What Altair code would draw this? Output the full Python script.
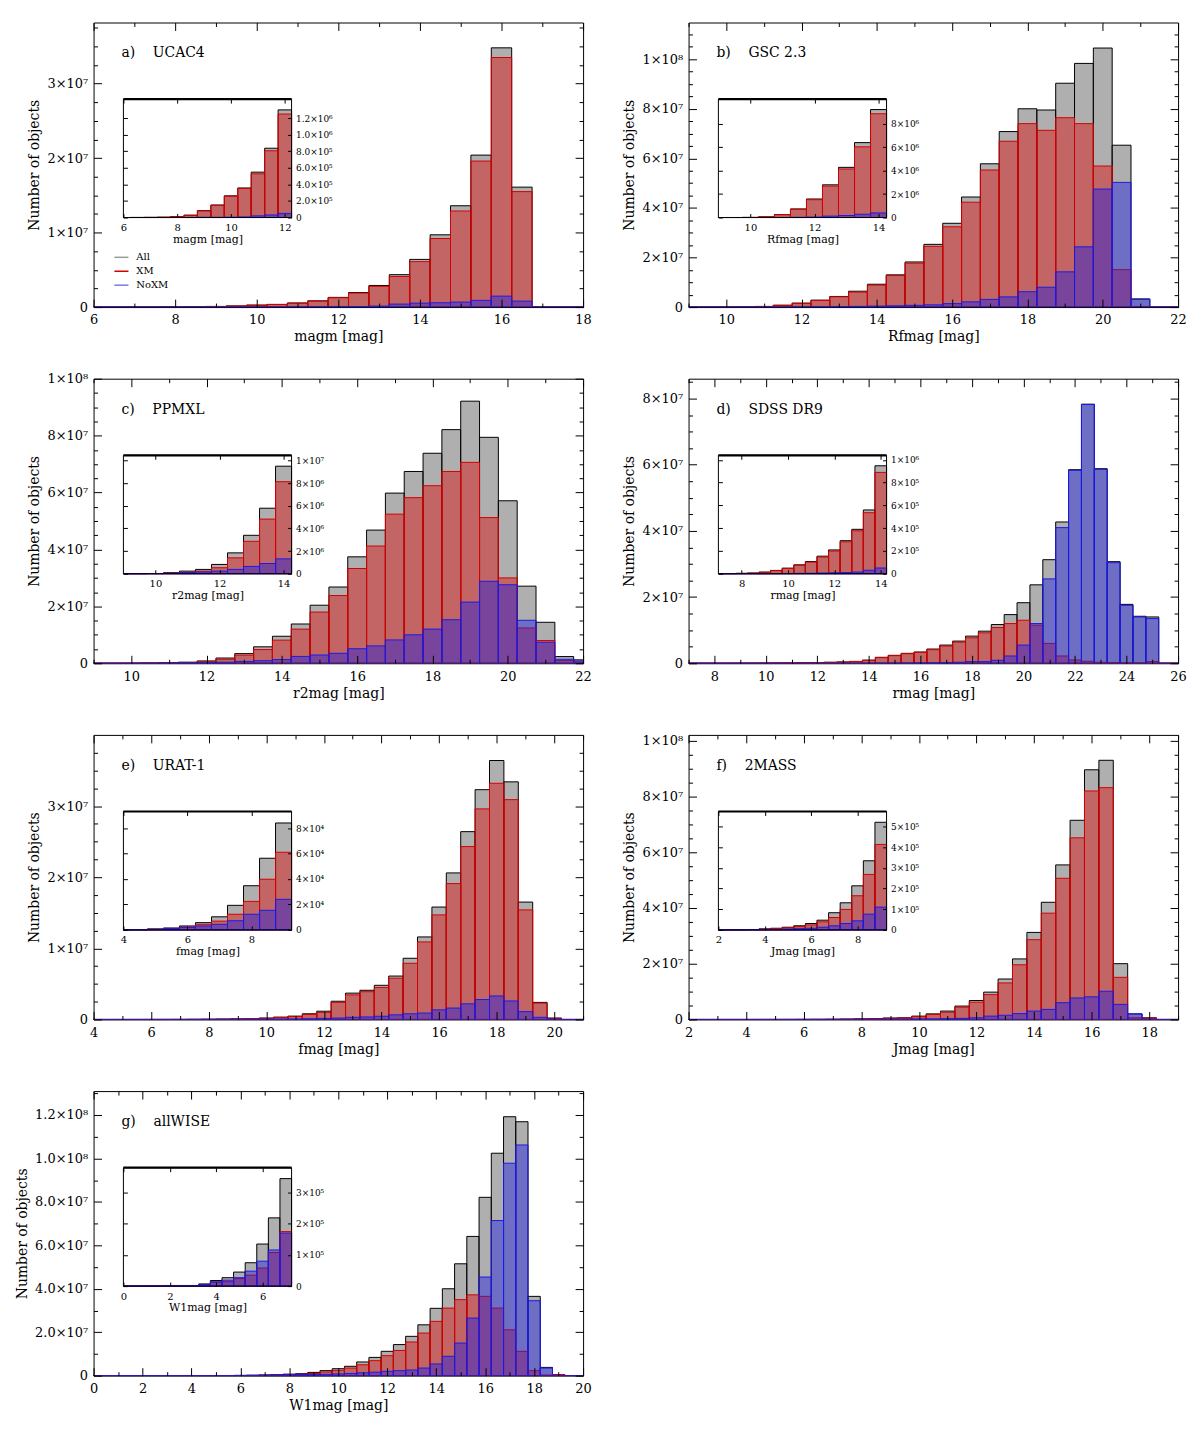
import altair as alt
import pandas as pd

FONT = "DejaVu Serif"
W, H = 492, 286                      # plot area of every panel
IX0, IX1, IY0, IY1 = 30.0, 199.0, 77.0, 196.0   # inset box inside the plot area
BIN_W = 0.5

SERIES = ["All", "XM", "NoXM"]
FILL = ["#7a7a7a", "#e00000", "#2020e0"]
FILL_OPACITY = [0.6, 0.42, 0.45]
STROKE = ["#000000", "#d40000", "#1a1ae6"]
LEGEND_COLORS = ["#9a9a9a", "#d40000", "#7878e6"]

# ---------------- a) UCAC4 ----------------
A_FIRST = 6.0
A_ALL = [0, 1e3, 2e3, 4e3, 1.2e4, 2.8e4, 8.3e4, 1.51e5, 2.62e5, 3.57e5, 5.48e5, 8.37e5, 1.30e6,
         1.95e6, 2.90e6, 4.35e6, 6.40e6, 9.70e6, 1.36e7, 2.04e7, 3.48e7, 1.61e7, 0, 0, 0]
A_XM = [0, 1e3, 2e3, 4e3, 1.1e4, 2.7e4, 8.0e4, 1.48e5, 2.58e5, 3.50e5, 5.28e5, 8.06e5, 1.25e6,
        1.88e6, 2.78e6, 4.10e6, 6.10e6, 9.20e6, 1.29e7, 1.96e7, 3.35e7, 1.55e7, 0, 0, 0]
A_NOXM = [0, 0, 0, 0, 1e3, 1e3, 3e3, 3e3, 4e3, 7e3, 2.0e4, 3.1e4, 5.0e4,
          6.0e4, 1.3e5, 4.0e5, 5.3e5, 5.8e5, 6.7e5, 9.0e5, 1.47e6, 8.0e5, 0, 0, 0]

# ---------------- b) GSC 2.3 ----------------
B_FIRST = 9.0
B_ALL = [1e3, 3e3, 1e4, 6e4, 2.5e5, 7.3e5, 1.58e6, 2.79e6, 4.28e6, 6.39e6, 9.21e6, 1.30e7, 1.82e7,
         2.53e7, 3.38e7, 4.44e7, 5.78e7, 7.08e7, 8.00e7, 7.95e7, 9.03e7, 9.83e7, 1.045e8, 6.53e7,
         3.3e6, 0, 0]
B_XM = [1e3, 3e3, 1e4, 5.8e4, 2.45e5, 7.1e5, 1.52e6, 2.68e6, 4.14e6, 6.03e6, 8.85e6, 1.27e7, 1.77e7,
        2.45e7, 3.24e7, 4.23e7, 5.53e7, 6.69e7, 7.40e7, 7.13e7, 7.64e7, 7.40e7, 5.69e7, 1.51e7,
        2e5, 0, 0]
B_NOXM = [0, 0, 0, 2e3, 5e3, 2e4, 4e4, 1.2e5, 1.7e5, 2.8e5, 3.9e5, 5e5, 7e5,
          9e5, 1.4e6, 2.1e6, 3.1e6, 4.1e6, 6.2e6, 8.0e6, 1.42e7, 2.43e7, 4.76e7, 5.03e7,
          3.1e6, 0, 0]

# ---------------- c) PPMXL ----------------
C_FIRST = 9.0
C_ALL = [2e3, 5e3, 2e4, 9e4, 2.3e5, 3.8e5, 8.2e5, 1.84e6, 3.39e6, 5.78e6, 9.49e6, 1.38e7, 2.04e7,
         2.68e7, 3.74e7, 4.68e7, 5.98e7, 6.74e7, 7.38e7, 8.21e7, 9.21e7, 7.94e7, 5.71e7, 2.71e7,
         1.44e7, 2.35e6, 1.2e6]
C_XM = [1e3, 3e3, 1e4, 5e4, 1.3e5, 2.3e5, 5.3e5, 1.40e6, 2.86e6, 4.82e6, 8.12e6, 1.20e7, 1.80e7,
        2.38e7, 3.33e7, 4.12e7, 5.24e7, 5.82e7, 6.24e7, 6.74e7, 7.06e7, 5.12e7, 3.00e7, 1.24e7,
        8.0e6, 1.0e6, 4e5]
C_NOXM = [1e3, 2e3, 1e4, 4e4, 1.0e5, 1.5e5, 2.3e5, 3.8e5, 6.4e5, 9.0e5, 1.31e6, 2.4e6, 2.9e6,
          3.5e6, 5.1e6, 6.1e6, 8.2e6, 1.00e7, 1.20e7, 1.53e7, 2.15e7, 2.88e7, 2.76e7, 1.51e7,
          7.4e6, 1.4e6, 8e5]

# ---------------- d) SDSS DR9 ----------------
D_FIRST = 7.0
D_ALL = [0, 1e3, 3e3, 6e3, 1.4e4, 2.9e4, 4.9e4, 7.8e4, 1.07e5, 1.54e5, 2.09e5, 2.9e5, 3.9e5,
         5.6e5, 9.48e5, 1.8e6, 2.4e6, 3.0e6, 3.4e6, 4.3e6, 5.5e6, 6.7e6, 8.2e6, 9.7e6, 1.17e7,
         1.47e7, 1.83e7, 2.37e7, 3.13e7, 4.27e7, 5.85e7, 7.83e7, 5.88e7, 3.07e7, 1.78e7, 1.42e7,
         1.40e7, 0, 0]
D_XM = [0, 1e3, 3e3, 6e3, 1.3e4, 2.7e4, 4.6e4, 7.4e4, 1.02e5, 1.47e5, 1.99e5, 2.8e5, 3.77e5,
        5.36e5, 8.9e5, 1.7e6, 2.3e6, 2.9e6, 3.3e6, 4.1e6, 5.2e6, 6.4e6, 7.7e6, 9.2e6, 1.08e7,
        1.20e7, 1.30e7, 1.15e7, 6.0e6, 2.2e6, 1.0e6, 6e5, 3e5, 2e5, 1e5, 1e5,
        5e5, 0, 0]
D_NOXM = [0, 0, 0, 0, 0, 1e3, 2e3, 3e3, 4e3, 6e3, 8e3, 1e4, 1.5e4,
          3e4, 5e4, 8e4, 1e5, 1e5, 1.2e5, 1.5e5, 2e5, 3e5, 5e5, 5e5, 9e5,
          2.2e6, 5.5e6, 1.20e7, 2.55e7, 4.10e7, 5.83e7, 7.82e7, 5.86e7, 3.04e7, 1.75e7, 1.40e7,
          1.35e7, 0, 0]

# ---------------- e) URAT-1 ----------------
E_FIRST = 4.0
E_ALL = [0, 3e2, 8e2, 1.5e3, 3.1e3, 5.7e3, 1.03e4, 1.93e4, 3.47e4, 5.63e4, 8.4e4, 1.0e5, 2.0e5,
         3.3e5, 4.7e5, 8.0e5, 1.16e6, 2.56e6, 3.70e6, 4.10e6, 4.80e6, 6.10e6, 8.60e6, 1.16e7,
         1.58e7, 2.06e7, 2.64e7, 3.23e7, 3.64e7, 3.34e7, 1.65e7, 2.4e6, 2e5, 0, 0]
E_XM = [0, 2e2, 5e2, 1.0e3, 2.3e3, 4.4e3, 6.9e3, 1.23e4, 2.24e4, 3.98e4, 6.1e4, 7.5e4, 1.6e5,
        2.8e5, 4.1e5, 7.1e5, 1.0e6, 2.40e6, 3.45e6, 3.90e6, 4.50e6, 5.80e6, 7.90e6, 1.09e7,
        1.47e7, 1.91e7, 2.43e7, 2.96e7, 3.32e7, 3.09e7, 1.54e7, 2.3e6, 1.5e5, 0, 0]
E_NOXM = [0, 1e2, 4e2, 1.2e3, 2.0e3, 3.1e3, 4.4e3, 7.2e3, 1.23e4, 1.54e4, 2.4e4, 3.0e4, 5e4,
          6e4, 7e4, 1e5, 1.5e5, 2e5, 3e5, 3.5e5, 4.5e5, 6.5e5, 8e5, 9e5,
          1.35e6, 1.6e6, 2.2e6, 2.8e6, 3.3e6, 2.6e6, 1.1e6, 3e5, 5e4, 0, 0]

# ---------------- f) 2MASS ----------------
F_FIRST = 2.0
F_ALL = [0, 0, 5e2, 2e3, 5e3, 8e3, 1.3e4, 2.0e4, 3.1e4, 4.7e4, 8.3e4, 1.31e5, 2.13e5, 3.34e5,
         5.2e5, 6.0e5, 1.2e6, 2.0e6, 3.0e6, 4.8e6, 6.8e6, 9.8e6, 1.45e7, 2.17e7, 3.12e7, 4.20e7,
         5.54e7, 7.14e7, 8.95e7, 9.29e7, 2.00e7, 2.0e6, 6e5, 0, 0]
F_XM = [0, 0, 4e2, 1.5e3, 4e3, 6e3, 1.0e4, 1.6e4, 2.4e4, 3.9e4, 6.0e4, 9.9e4, 1.65e5, 2.68e5,
        4.13e5, 5.0e5, 1.0e6, 1.8e6, 2.6e6, 4.4e6, 6.2e6, 8.9e6, 1.31e7, 1.96e7, 2.86e7, 3.81e7,
        5.06e7, 6.51e7, 8.19e7, 8.31e7, 1.51e7, 6e5, 5e5, 0, 0]
F_NOXM = [0, 0, 1e2, 5e2, 1e3, 2e3, 4e3, 6e3, 8e3, 1.3e4, 2.0e4, 3.1e4, 4.4e4, 7.6e4,
          1.1e5, 1.0e5, 2e5, 2e5, 3e5, 4e5, 6e5, 1.2e6, 1.5e6, 2.1e6, 3.0e6, 3.6e6,
          6.0e6, 7.7e6, 8.1e6, 1.01e7, 5.4e6, 2.0e6, 1e5, 0, 0]

# ---------------- g) allWISE ----------------
G_FIRST = 0.0
G_ALL = [0, 0, 1e3, 1.5e3, 2e3, 2e3, 2e3, 7e3, 1.8e4, 2.7e4, 4.5e4, 7.5e4, 1.35e5, 2.19e5,
         3.45e5, 4.5e5, 7.0e5, 9.0e5, 1.5e6, 2.3e6, 3.2e6, 4.3e6, 6.3e6, 8.4e6, 1.12e7, 1.43e7,
         1.81e7, 2.34e7, 3.10e7, 4.00e7, 5.15e7, 6.41e7, 8.21e7, 1.024e8, 1.192e8, 1.169e8,
         3.65e7, 3.8e6, 5e5, 0, 0]
G_XM = [0, 0, 1e3, 1.5e3, 1.5e3, 1.5e3, 1e3, 2e3, 1.2e4, 1.4e4, 2.4e4, 3.5e4, 5.8e4, 1.08e5,
        1.75e5, 2.0e5, 3.0e5, 5.0e5, 1.0e6, 1.7e6, 2.45e6, 3.5e6, 5.0e6, 6.9e6, 9.2e6, 1.16e7,
        1.55e7, 1.96e7, 2.50e7, 3.11e7, 3.50e7, 3.72e7, 3.65e7, 3.11e7, 2.11e7, 1.12e7,
        2.3e6, 3e5, 5e5, 0, 0]
G_NOXM = [0, 0, 0, 0, 5e2, 5e2, 1e3, 5e3, 1.4e4, 1.9e4, 2.7e4, 4.8e4, 8.0e4, 1.16e5,
          1.70e5, 2.5e5, 4.0e5, 4.0e5, 5.0e5, 6.0e5, 8.0e5, 1.0e6, 1.3e6, 1.6e6, 2.0e6, 2.3e6,
          2.6e6, 3.5e6, 5.4e6, 8.9e6, 1.50e7, 2.65e7, 4.54e7, 7.14e7, 9.78e7, 1.062e8,
          3.45e7, 3.5e6, 0, 0, 0]

# ---------------- texts, axes and tick labels ----------------
LABELS = ["a)\u00a0\u00a0\u00a0\u00a0UCAC4", "b)\u00a0\u00a0\u00a0\u00a0GSC 2.3",
          "c)\u00a0\u00a0\u00a0\u00a0PPMXL", "d)\u00a0\u00a0\u00a0\u00a0SDSS DR9",
          "e)\u00a0\u00a0\u00a0\u00a0URAT-1", "f)\u00a0\u00a0\u00a0\u00a02MASS",
          "g)\u00a0\u00a0\u00a0\u00a0allWISE"]
X_TITLES = ["magm [mag]", "Rfmag [mag]", "r2mag [mag]", "rmag [mag]",
            "fmag [mag]", "Jmag [mag]", "W1mag [mag]"]
X_DOMAINS = [[6, 18], [9, 22], [9, 22], [7, 26], [4, 21], [2, 19], [0, 20]]
Y_MAX = [3.82e7, 1.148e8, 1.0e8, 8.6e7, 4.0e7, 1.02e8, 1.31e8]
Y_MINOR_STEP = [2.5e6, 5e6, 5e6, 5e6, 2.5e6, 5e6, 1e7]
Y_TICKS = [
    [0, 1e7, 2e7, 3e7],
    [0, 2e7, 4e7, 6e7, 8e7, 1e8],
    [0, 2e7, 4e7, 6e7, 8e7, 1e8],
    [0, 2e7, 4e7, 6e7, 8e7],
    [0, 1e7, 2e7, 3e7],
    [0, 2e7, 4e7, 6e7, 8e7, 1e8],
    [0, 2e7, 4e7, 6e7, 8e7, 1e8, 1.2e8],
]
Y_LABELS = [
    ["0", "1×10⁷", "2×10⁷", "3×10⁷"],
    ["0", "2×10⁷", "4×10⁷", "6×10⁷", "8×10⁷", "1×10⁸"],
    ["0", "2×10⁷", "4×10⁷", "6×10⁷", "8×10⁷", "1×10⁸"],
    ["0", "2×10⁷", "4×10⁷", "6×10⁷", "8×10⁷"],
    ["0", "1×10⁷", "2×10⁷", "3×10⁷"],
    ["0", "2×10⁷", "4×10⁷", "6×10⁷", "8×10⁷", "1×10⁸"],
    ["0", "2.0×10⁷", "4.0×10⁷", "6.0×10⁷", "8.0×10⁷", "1.0×10⁸", "1.2×10⁸"],
]
Y_EXTENT = [47, 47, 47, 47, 47, 47, 59]

INSET_X_DOMAINS = [[6, 12.25], [9, 14.25], [9, 14.25], [7, 14.25], [4, 9.25], [2, 9.25], [0, 7.25]]
INSET_Y_MAX = [1.43e6, 1.01e7, 1.045e7, 1.04e6, 9.3e4, 5.72e5, 3.8e5]
INSET_X_TICKS = [[6, 8, 10, 12], [10, 12, 14], [10, 12, 14], [8, 10, 12, 14],
                 [4, 6, 8], [2, 4, 6, 8], [0, 2, 4, 6]]
INSET_Y_TICKS = [
    [0, 2e5, 4e5, 6e5, 8e5, 1e6, 1.2e6],
    [0, 2e6, 4e6, 6e6, 8e6],
    [0, 2e6, 4e6, 6e6, 8e6, 1e7],
    [0, 2e5, 4e5, 6e5, 8e5, 1e6],
    [0, 2e4, 4e4, 6e4, 8e4],
    [0, 1e5, 2e5, 3e5, 4e5, 5e5],
    [0, 1e5, 2e5, 3e5],
]
INSET_Y_LABELS = [
    ["0", "2.0×10⁵", "4.0×10⁵", "6.0×10⁵", "8.0×10⁵", "1.0×10⁶", "1.2×10⁶"],
    ["0", "2×10⁶", "4×10⁶", "6×10⁶", "8×10⁶"],
    ["0", "2×10⁶", "4×10⁶", "6×10⁶", "8×10⁶", "1×10⁷"],
    ["0", "2×10⁵", "4×10⁵", "6×10⁵", "8×10⁵", "1×10⁶"],
    ["0", "2×10⁴", "4×10⁴", "6×10⁴", "8×10⁴"],
    ["0", "1×10⁵", "2×10⁵", "3×10⁵", "4×10⁵", "5×10⁵"],
    ["0", "1×10⁵", "2×10⁵", "3×10⁵"],
]

FIRSTS = [A_FIRST, B_FIRST, C_FIRST, D_FIRST, E_FIRST, F_FIRST, G_FIRST]
ALLS = [A_ALL, B_ALL, C_ALL, D_ALL, E_ALL, F_ALL, G_ALL]
XMS = [A_XM, B_XM, C_XM, D_XM, E_XM, F_XM, G_XM]
NOXMS = [A_NOXM, B_NOXM, C_NOXM, D_NOXM, E_NOXM, F_NOXM, G_NOXM]


def make_df(first, allv, xm, noxm):
    rows = []
    for si, vals in enumerate([allv, xm, noxm]):
        for i, v in enumerate(vals):
            c = first + i * BIN_W
            rows.append(dict(lo=c - BIN_W / 2, hi=c + BIN_W / 2, v=float(v), base=0.0,
                             fc=FILL[si], sc=STROKE[si], fo=FILL_OPACITY[si],
                             series=SERIES[si]))
    return pd.DataFrame(rows)


def label_expr(values, labels):
    expr = "''"
    for v, l in reversed(list(zip(values, labels))):
        expr = f"abs(datum.value - ({float(v)!r})) < 0.5 ? '{l}' : ({expr})"
    return expr


def tick_child(data, xs, ys, xvals, yvals, size, xorient, xoff, yorient, yoff):
    common = dict(labels=False, domain=False, grid=False, ticks=True, tickSize=size,
                  tickColor="black", tickWidth=1, title=None, zindex=1)
    return alt.Chart(data).mark_point(opacity=0, size=1).encode(
        x=alt.X("x0:Q", scale=xs, axis=alt.Axis(orient=xorient, offset=xoff, values=xvals, **common)),
        y=alt.Y("y0:Q", scale=ys, axis=alt.Axis(orient=yorient, offset=yoff, values=yvals, **common)),
    )


def panel(k):
    df = make_df(FIRSTS[k], ALLS[k], XMS[k], NOXMS[k])
    xmin, xmax = X_DOMAINS[k]
    xs = alt.Scale(domain=X_DOMAINS[k], nice=False, zero=False)
    ys = alt.Scale(domain=[0, Y_MAX[k]], nice=False, zero=False)
    xmaj = [v for v in range(int(xmin), int(xmax) + 1) if v % 2 == 0]
    xmin_t = [v for v in range(int(xmin), int(xmax) + 1) if v % 2 == 1]
    step = Y_MINOR_STEP[k]
    yminor = []
    j = 1
    while j * step < Y_MAX[k] - 1:
        val = j * step
        if all(abs(val - m) > 1 for m in Y_TICKS[k]):
            yminor.append(val)
        j += 1

    main = alt.Chart(df).mark_rect(clip=True, strokeWidth=1).encode(
        x=alt.X("lo:Q", scale=xs, axis=alt.Axis(
            orient="bottom", values=xmaj, format="d", ticks=False, domain=False, grid=False,
            labelFlush=False, labelOverlap=False, labelFontSize=13, labelPadding=7,
            title=X_TITLES[k], titleFontSize=14, titlePadding=3)),
        x2="hi:Q",
        y=alt.Y("v:Q", scale=ys, axis=alt.Axis(
            orient="left", values=Y_TICKS[k], labelExpr=label_expr(Y_TICKS[k], Y_LABELS[k]),
            ticks=False, domain=False, grid=False, labelFontSize=13, labelPadding=6,
            labelFlush=False, labelOverlap=False, minExtent=Y_EXTENT[k], maxExtent=Y_EXTENT[k],
            title="Number of objects", titleFontSize=14, titlePadding=5)),
        y2="base:Q",
        fill=alt.Fill("fc:N", scale=None),
        stroke=alt.Stroke("sc:N", scale=None),
        fillOpacity=alt.FillOpacity("fo:Q", scale=None),
    )

    # inset: the same histogram, zoomed on the bright end
    ix0, ix1 = INSET_X_DOMAINS[k]
    din = df[(df.hi <= ix1 + 1e-9) & (df.hi > ix0 + 1e-9)].copy()
    din["lo"] = din["lo"].clip(lower=ix0)

    def ixs():
        return alt.Scale(domain=INSET_X_DOMAINS[k], range=[IX0, IX1], nice=False, zero=False)

    def iys():
        return alt.Scale(domain=[0, INSET_Y_MAX[k]], range=[IY1, IY0], nice=False, zero=False)

    inset_bars = alt.Chart(din).mark_rect(strokeWidth=1).encode(
        x=alt.X("lo:Q", scale=ixs(), axis=alt.Axis(
            orient="bottom", offset=-(H - IY1), values=INSET_X_TICKS[k], format="d",
            ticks=False, domain=False, grid=False, labelFlush=False, labelOverlap=False,
            labelFontSize=10, labelPadding=5, title=X_TITLES[k], titleFontSize=11,
            titlePadding=1)),
        x2="hi:Q",
        y=alt.Y("v:Q", scale=iys(), axis=alt.Axis(
            orient="right", offset=-(W - IX1), values=INSET_Y_TICKS[k],
            labelExpr=label_expr(INSET_Y_TICKS[k], INSET_Y_LABELS[k]),
            ticks=False, domain=False, grid=False, labelFlush=False, labelOverlap=False,
            labelFontSize=9, labelPadding=4, title=None)),
        y2="base:Q",
        fill=alt.Fill("fc:N", scale=None),
        stroke=alt.Stroke("sc:N", scale=None),
        fillOpacity=alt.FillOpacity("fo:Q", scale=None),
    )
    frame_df = pd.DataFrame({"x0": [ix0], "x1": [ix1], "y0": [0.0], "y1": [INSET_Y_MAX[k]]})
    frame = alt.Chart(frame_df).mark_rect(filled=False, stroke="black", strokeWidth=1).encode(
        x=alt.X("x0:Q", scale=ixs(), axis=None), x2="x1:Q",
        y=alt.Y("y0:Q", scale=iys(), axis=None), y2="y1:Q")
    topline = alt.Chart(frame_df).mark_rule(stroke="black", strokeWidth=2.2).encode(
        x=alt.X("x0:Q", scale=ixs(), axis=None), x2="x1:Q",
        y=alt.Y("y1:Q", scale=iys(), axis=None))

    # inward ticks on all four sides (IDL style)
    tdf = pd.DataFrame({"x0": [float(xmin)], "y0": [0.0]})
    itdf = pd.DataFrame({"x0": [float(ix0)], "y0": [0.0]})
    children = [
        main, inset_bars, frame, topline,
        tick_child(tdf, xs, ys, xmaj, Y_TICKS[k], 8, "top", -H, "right", -W),
        tick_child(tdf, xs, ys, xmaj, Y_TICKS[k], 8, "bottom", -H, "left", -W),
        tick_child(tdf, xs, ys, xmin_t, yminor, 4, "top", -H, "right", -W),
        tick_child(tdf, xs, ys, xmin_t, yminor, 4, "bottom", -H, "left", -W),
        tick_child(itdf, ixs(), iys(), INSET_X_TICKS[k], INSET_Y_TICKS[k], 4,
                   "top", -IY1, "right", IX0 - W),
        tick_child(itdf, ixs(), iys(), INSET_X_TICKS[k], INSET_Y_TICKS[k], 4,
                   "bottom", IY0 - H, "left", -IX1),
        alt.Chart(pd.DataFrame({"t": [LABELS[k]]})).mark_text(
            align="left", baseline="middle", fontSize=14, font=FONT, color="black"
        ).encode(x=alt.value(28), y=alt.value(31), text="t:N"),
    ]
    if k == 0:
        legend_layer = alt.Chart(pd.DataFrame({"series": SERIES})).mark_point(
            filled=False, strokeWidth=1.5
        ).encode(
            stroke=alt.Stroke("series:N", scale=alt.Scale(domain=SERIES, range=LEGEND_COLORS),
                              legend=alt.Legend(orient="none", legendX=20, legendY=228,
                                                title=None, symbolType="stroke", symbolSize=200,
                                                symbolStrokeWidth=1.5, labelFontSize=10,
                                                labelFont=FONT, padding=0, rowPadding=1,
                                                labelOffset=7))
        ).transform_filter("false")
        children.append(legend_layer)
    return alt.layer(*children).resolve_scale(x="independent", y="independent").properties(
        width=W, height=H)


P = [panel(k) for k in range(7)]

chart = alt.concat(*P, columns=2, spacing={"row": 72, "column": 106}, bounds="flush").properties(
    padding={"left": 7, "top": 10, "right": 5, "bottom": 5}
).configure_view(
    stroke="black", strokeWidth=1
).configure_axis(
    labelFont=FONT, titleFont=FONT, labelColor="black", titleColor="black",
    titleFontWeight="normal"
).configure_legend(
    labelFont=FONT, labelColor="black"
).configure_text(font=FONT)

chart.save("out.html", embed_options={"renderer": "svg", "actions": False})
